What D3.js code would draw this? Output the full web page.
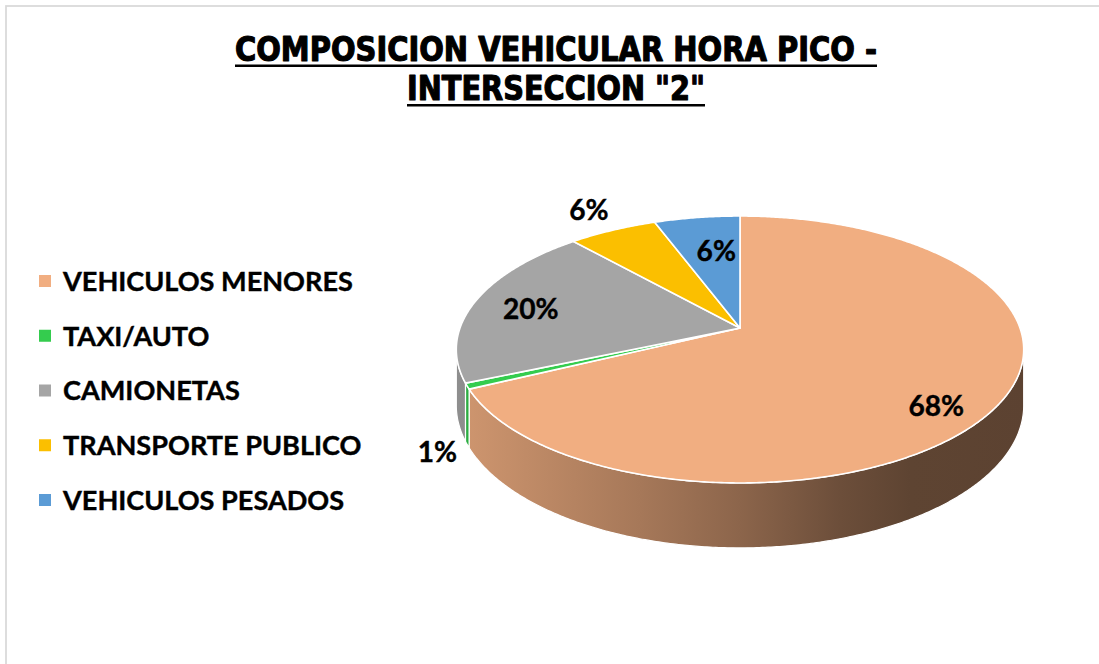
<!DOCTYPE html>
<html>
<head>
<meta charset="utf-8">
<script src="https://cdn.jsdelivr.net/npm/d3@7"></script>
<style>
  html, body { margin: 0; padding: 0; background: #ffffff; overflow: hidden; }
  svg { display: block; }
</style>
</head>
<body>
<svg id="chart" width="1099" height="664"></svg>
<script>
// ---- data ----
const categories = ["VEHICULOS MENORES", "TAXI/AUTO", "CAMIONETAS", "TRANSPORTE PUBLICO", "VEHICULOS PESADOS"];
const shares = [67.8, 0.7, 19.9, 5.9, 5.7];          // percent of peak-hour traffic
const sliceColors = ["#F1AE81", "#34CC4E", "#A5A5A5", "#FBBF00", "#5B9BD5"];
const titleLines = ["COMPOSICION VEHICULAR HORA PICO -", "INTERSECCION \"2\""];

// ---- layout ----
const W = 1099, H = 664;
const svg = d3.select("#chart");
const defs = svg.append("defs");

// chart area frame
svg.append("rect")
  .attr("x", 6).attr("y", 6)
  .attr("width", W + 20).attr("height", H + 20)
  .attr("fill", "#ffffff")
  .attr("stroke", "#D9D9D9").attr("stroke-width", 1.75);

// ---- title (condensed, heavy, underlined) ----
const titleCenter = 556;
const titleWidths = [642, 298];
const titleBaselines = [60.5, 100];
titleLines.forEach((t, i) => {
  svg.append("text")
    .attr("x", titleCenter).attr("y", titleBaselines[i])
    .attr("text-anchor", "middle")
    .attr("font-family", "'Liberation Sans Narrow', 'DejaVu Sans Condensed', 'Arial Narrow', sans-serif")
    .attr("font-stretch", "condensed")
    .attr("font-weight", "bold")
    .attr("font-size", 33.5)
    .attr("textLength", titleWidths[i])
    .attr("lengthAdjust", "spacingAndGlyphs")
    .attr("fill", "#000")
    .attr("stroke", "#000").attr("stroke-width", 1.1).attr("stroke-linejoin", "round")
    .text(t);
  svg.append("line")
    .attr("x1", titleCenter - titleWidths[i] / 2)
    .attr("x2", titleCenter + titleWidths[i] / 2)
    .attr("y1", titleBaselines[i] + 5.2).attr("y2", titleBaselines[i] + 5.2)
    .attr("stroke", "#000").attr("stroke-width", 2.6);
});

// ---- body font sized so the longest legend entry spans its box ----
const bodyFont = "Lato, 'Open Sans', 'Noto Sans', sans-serif";
const probe = svg.append("text")
  .attr("font-family", bodyFont).attr("font-weight", 700).attr("font-size", 100)
  .text(categories[0]);
const bodySize = Math.min(30, 290 / probe.node().getComputedTextLength() * 100);
probe.remove();

// ---- 3D pie projection (tilted disc seen in perspective) ----
const cx = 740, cy = 328;     // apex of the top face
const rx = 280, ry = 130;     // horizontal / depth scale
const persp = 0.161;          // perspective foreshortening
const depth = 54.5;           // thickness of the disc

function project(angle, r, h) {
  const X = r * Math.sin(angle), Z = r * Math.cos(angle);
  const w = 1 + persp * Z;
  return [cx + rx * X / w, cy + (-ry * Z + depth * h) / w];
}
function arcPoints(a0, a1, r, h) {
  const n = Math.max(2, Math.ceil((a1 - a0) / (Math.PI / 360)));
  return d3.range(n + 1).map(i => project(a0 + (a1 - a0) * i / n, r, h));
}
const pathGen = d3.line();

const arcs = d3.pie().sort(null).value(d => d)(shares);

// side shading: lit from the left, darker toward the right
const shadeStops = [[460, 0.86], [640, 0.69], [740, 0.58], [840, 0.45], [910, 0.39], [1030, 0.38]];
const shade = (c, f) => { const k = d3.rgb(c); return d3.rgb(k.r * f, k.g * f, k.b * f).formatHex(); };
sliceColors.forEach((c, i) => {
  const g = defs.append("linearGradient")
    .attr("id", "side-" + i)
    .attr("gradientUnits", "userSpaceOnUse")
    .attr("x1", shadeStops[0][0]).attr("x2", shadeStops[shadeStops.length - 1][0])
    .attr("y1", 0).attr("y2", 0);
  const span = shadeStops[shadeStops.length - 1][0] - shadeStops[0][0];
  shadeStops.forEach(([x, f]) => {
    g.append("stop").attr("offset", (x - shadeStops[0][0]) / span).attr("stop-color", shade(c, f));
  });
});

// only the front-facing part of the rim is visible
const visLo = Math.PI / 2 + Math.asin(persp);
const visHi = 3 * Math.PI / 2 - Math.asin(persp);

const pie = svg.append("g").attr("class", "pie");

pie.selectAll("path.side")
  .data(arcs.filter(a => Math.min(a.endAngle, visHi) > Math.max(a.startAngle, visLo)))
  .enter().append("path")
  .attr("class", "side")
  .attr("d", a => {
    const s0 = Math.max(a.startAngle, visLo), s1 = Math.min(a.endAngle, visHi);
    const pts = arcPoints(s0, s1, 1, 0).concat(arcPoints(s0, s1, 1, 1).reverse());
    return pathGen(pts) + "Z";
  })
  .attr("fill", a => "url(#side-" + a.index + ")")
  .attr("stroke", "#ffffff").attr("stroke-width", 1.2).attr("stroke-linejoin", "round");

pie.selectAll("path.top")
  .data(arcs)
  .enter().append("path")
  .attr("class", "top")
  .attr("d", a => pathGen([project(0, 0, 0)].concat(arcPoints(a.startAngle, a.endAngle, 1, 0))) + "Z")
  .attr("fill", a => sliceColors[a.index])
  .attr("stroke", "#ffffff").attr("stroke-width", 1.6).attr("stroke-linejoin", "round");

// ---- data labels ----
const labelPlace = [
  { r: 0.84, da: 8.4 },
  { r: 1.25, da: -16.8 },
  { r: 0.78, da: -1.3 },
  { r: 1.236, da: 0.4 },
  { r: 0.66, da: 2.1 }
];
const pct = d3.format(".0f");
pie.selectAll("text.label")
  .data(arcs)
  .enter().append("text")
  .attr("class", "label")
  .each(function (a) {
    const p = labelPlace[a.index];
    const mid = (a.startAngle + a.endAngle) / 2 + p.da * Math.PI / 180;
    const [x, y] = project(mid, p.r, 0);
    d3.select(this).attr("x", x).attr("y", y);
  })
  .attr("dy", "0.36em")
  .attr("text-anchor", "middle")
  .attr("font-family", bodyFont).attr("font-weight", 700)
  .attr("font-size", bodySize + 1)
  .attr("fill", "#000")
  .attr("stroke", "#000").attr("stroke-width", 0.4)
  .text(a => pct(a.data) + "%");

// ---- legend ----
const legend = svg.append("g").attr("class", "legend");
const legendTop = 281, legendStep = 54.75;
const rows = legend.selectAll("g.row")
  .data(categories)
  .enter().append("g")
  .attr("class", "row")
  .attr("transform", (d, i) => `translate(0,${legendTop + i * legendStep})`);
rows.append("rect")
  .attr("x", 39).attr("y", -6).attr("width", 12).attr("height", 12)
  .attr("fill", (d, i) => sliceColors[i]);
rows.append("text")
  .attr("x", 63).attr("dy", "0.36em")
  .attr("font-family", bodyFont).attr("font-weight", 700)
  .attr("font-size", bodySize)
  .attr("fill", "#000")
  .attr("stroke", "#000").attr("stroke-width", 0.4)
  .text(d => d);
</script>
</body>
</html>
